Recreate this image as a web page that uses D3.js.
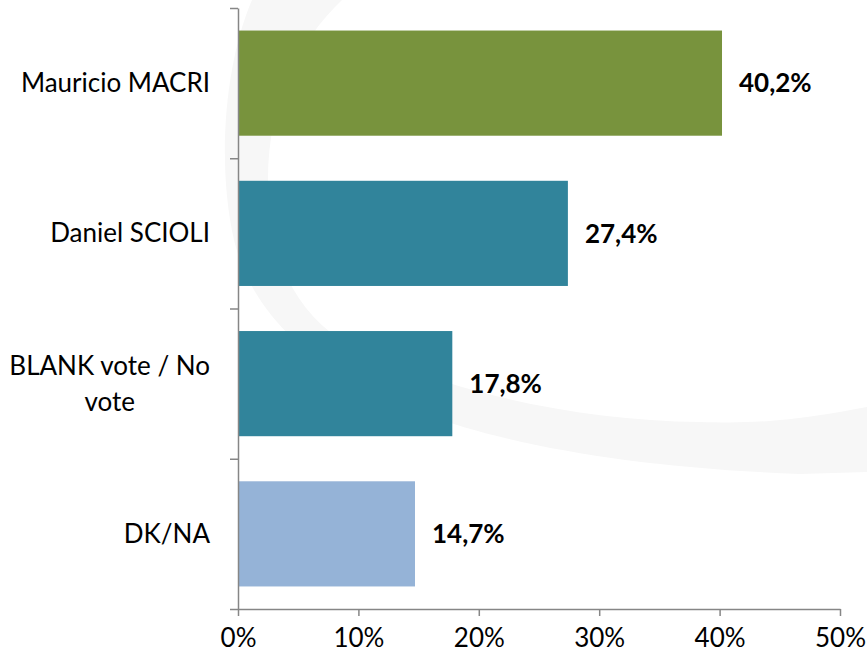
<!DOCTYPE html>
<html>
<head>
<meta charset="utf-8">
<script src="https://cdn.jsdelivr.net/npm/d3@7"></script>
<style>
  body { margin: 0; background: #fff; }
  svg { display: block; font-family: Lato, "Open Sans", sans-serif; }
  .axis path, .axis line { stroke: #868686; stroke-width: 1.5; }
</style>
</head>
<body>
<div id="chart"></div>
<script>
var width = 867,
    height = 655,
    plotLeft = 238,
    plotRight = 840,
    plotTop = 8,
    plotBottom = 609,
    fontSize = "26px";

// data
var categories = ["Mauricio MACRI", "Daniel SCIOLI", "BLANK vote / No|vote", "DK/NA"];
var values = [0.402, 0.274, 0.178, 0.147];
var labels = ["40,2%", "27,4%", "17,8%", "14,7%"];
var colors = ["#78933d", "#31849b", "#31849b", "#95b3d7"];
var xTicks = [0, 0.1, 0.2, 0.3, 0.4, 0.5];

var svg = d3.select("#chart").append("svg")
    .attr("width", width)
    .attr("height", height);

// faint watermark swoosh in the background
svg.append("path")
    .attr("fill", "#f7f7f7")
    .attr("d", "M252,0 C226,60 216,160 234,240 C270,390 480,462 800,474 L867,472 L867,407" +
               " C780,424 740,423 700,422 C560,420 420,385 330,332 C290,300 268,250 268,180" +
               " C268,100 300,40 342,0 Z");

var x = d3.scaleLinear().domain([0, 0.5]).range([plotLeft, plotRight]);
var y = d3.scaleBand().domain(categories).range([plotTop, plotBottom])
    .paddingInner(0.3).paddingOuter(0.15);
var yb = d3.scaleLinear().domain([0, categories.length]).range([plotTop, plotBottom]);

// bars
svg.selectAll("rect.bar")
    .data(values)
    .enter().append("rect")
    .attr("class", "bar")
    .attr("x", x(0))
    .attr("y", function(d, i) { return y(categories[i]); })
    .attr("width", function(d) { return x(d) - x(0); })
    .attr("height", y.bandwidth())
    .attr("fill", function(d, i) { return colors[i]; });

// value labels
svg.selectAll("text.val")
    .data(values)
    .enter().append("text")
    .attr("class", "val")
    .attr("x", function(d) { return x(d) + 17; })
    .attr("y", function(d, i) { return y(categories[i]) + y.bandwidth() / 2; })
    .attr("dy", "0.36em")
    .style("font-size", fontSize)
    .style("font-weight", "bold")
    .text(function(d, i) { return labels[i]; });

// y axis: ticks between categories
svg.append("g")
    .attr("class", "axis")
    .attr("transform", "translate(" + plotLeft + ",0)")
    .call(d3.axisLeft(yb).ticks(categories.length).tickSizeInner(8).tickSizeOuter(0).tickFormat(""));

// x axis
var xAxis = svg.append("g")
    .attr("class", "axis")
    .attr("transform", "translate(0," + plotBottom + ")")
    .call(d3.axisBottom(x).tickValues(xTicks).tickSizeInner(7).tickSizeOuter(0)
        .tickPadding(13).tickFormat(d3.format(".0%")));
xAxis.selectAll("text")
    .style("font-size", fontSize)
    .style("font-family", "Lato, 'Open Sans', sans-serif")
    .attr("fill", "#000");

// category labels, multi-line ones centred under their widest line
svg.selectAll("text.cat")
    .data(categories)
    .enter().append("text")
    .attr("class", "cat")
    .style("font-size", fontSize)
    .each(function(d) {
        var t = d3.select(this),
            lines = d.split("|"),
            cy = y(d) + y.bandwidth() / 2,
            lh = 36,
            w = 0;
        lines.forEach(function(line, i) {
            var sp = t.append("tspan")
                .attr("x", 0)
                .attr("y", cy + (i - (lines.length - 1) / 2) * lh)
                .attr("dy", "0.35em")
                .text(line);
            w = Math.max(w, sp.node().getComputedTextLength());
        });
        if (lines.length == 1) {
            t.attr("text-anchor", "end").selectAll("tspan").attr("x", 210);
        } else {
            t.attr("text-anchor", "middle").selectAll("tspan").attr("x", 210 - w / 2);
        }
    });
</script>
</body>
</html>
